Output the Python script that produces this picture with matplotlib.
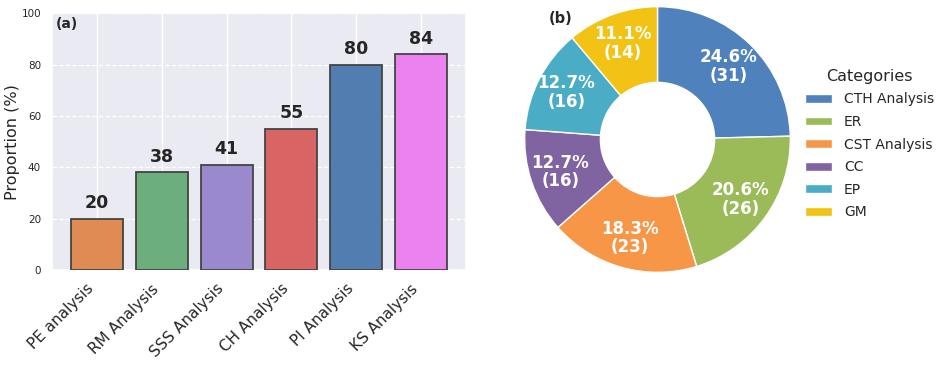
import matplotlib
matplotlib.use("Agg")
import matplotlib.pyplot as plt
import seaborn as sns

categories = ["PE analysis", "RM Analysis", "SSS Analysis", "CH Analysis", "PI Analysis", "KS Analysis"]
proportions = [20, 38, 41, 55, 80, 84]
bar_colors = ["#e08b53", "#6caf7d", "#9a89cc", "#d96464", "#517db0", "#eb82ef"]

pie_labels = ["CTH Analysis", "ER", "CST Analysis", "CC", "EP", "GM"]
pie_counts = [31, 26, 23, 16, 16, 14]
pie_colors = ["#4f81bd", "#9bbb59", "#f79646", "#8064a2", "#4bacc6", "#f2c314"]

sns.set_theme(style="darkgrid")
plt.rcParams["font.family"] = ["DejaVu Sans"]

fig = plt.figure(figsize=(9.47, 3.66), dpi=100)

# (a) bar chart
ax1 = fig.add_axes([0.055, 0.262, 0.437, 0.702])
bars = ax1.bar(range(len(categories)), proportions, width=0.8, color=bar_colors,
               edgecolor="#444444", linewidth=1.3, zorder=3)
for b, v in zip(bars, proportions):
    ax1.text(b.get_x() + b.get_width() / 2, v + 2.5, f"{v}", ha="center", va="bottom",
             fontsize=12.5, fontweight="bold", color="#262626")
ax1.set_ylim(0, 100)
ax1.set_xticks(range(len(categories)))
ax1.set_xticklabels(categories, rotation=45, ha="right", fontsize=11)
ax1.tick_params(axis="y", labelsize=7.5, pad=2)
ax1.tick_params(axis="x", pad=2)
ax1.set_ylabel("Proportion (%)", fontsize=11.5, labelpad=1)
ax1.grid(axis="y", linestyle="--", color="white", linewidth=0.9)
ax1.text(0.01, 0.985, "(a)", transform=ax1.transAxes, fontsize=10, fontweight="bold",
         va="top", ha="left", color="#262626")

# (b) donut chart
ax2 = fig.add_axes([524 / 947, 1 - 273 / 366, 267 / 947, 267 / 366])
total = sum(pie_counts)


def fmt(p):
    n = round(p * total / 100)
    return f"{p:.1f}%\n({n})"


wedges, _, autotexts = ax2.pie(pie_counts, colors=pie_colors, startangle=90, counterclock=False,
                               autopct=fmt, pctdistance=0.77,
                               wedgeprops=dict(width=0.57, edgecolor="white", linewidth=1),
                               textprops=dict(color="white", fontsize=12, fontweight="bold"))
for t in autotexts:
    t.set_linespacing(1.05)
ax2.set_xlim(-1.005, 1.005)
ax2.set_ylim(-1.005, 1.005)
ax2.set_aspect("equal")
ax2.text(-0.73, 0.91, "(b)", fontsize=10.5, fontweight="bold", color="#262626", ha="center", va="center")

leg = fig.legend(wedges, pie_labels, title="Categories", loc="center left",
                 bbox_to_anchor=(792 / 947, 1 - 144 / 366), frameon=False,
                 fontsize=10, title_fontsize=11.5, handlelength=2.0, handleheight=0.6,
                 labelspacing=0.62, handletextpad=0.85)

fig.savefig("out.png", dpi=100)
